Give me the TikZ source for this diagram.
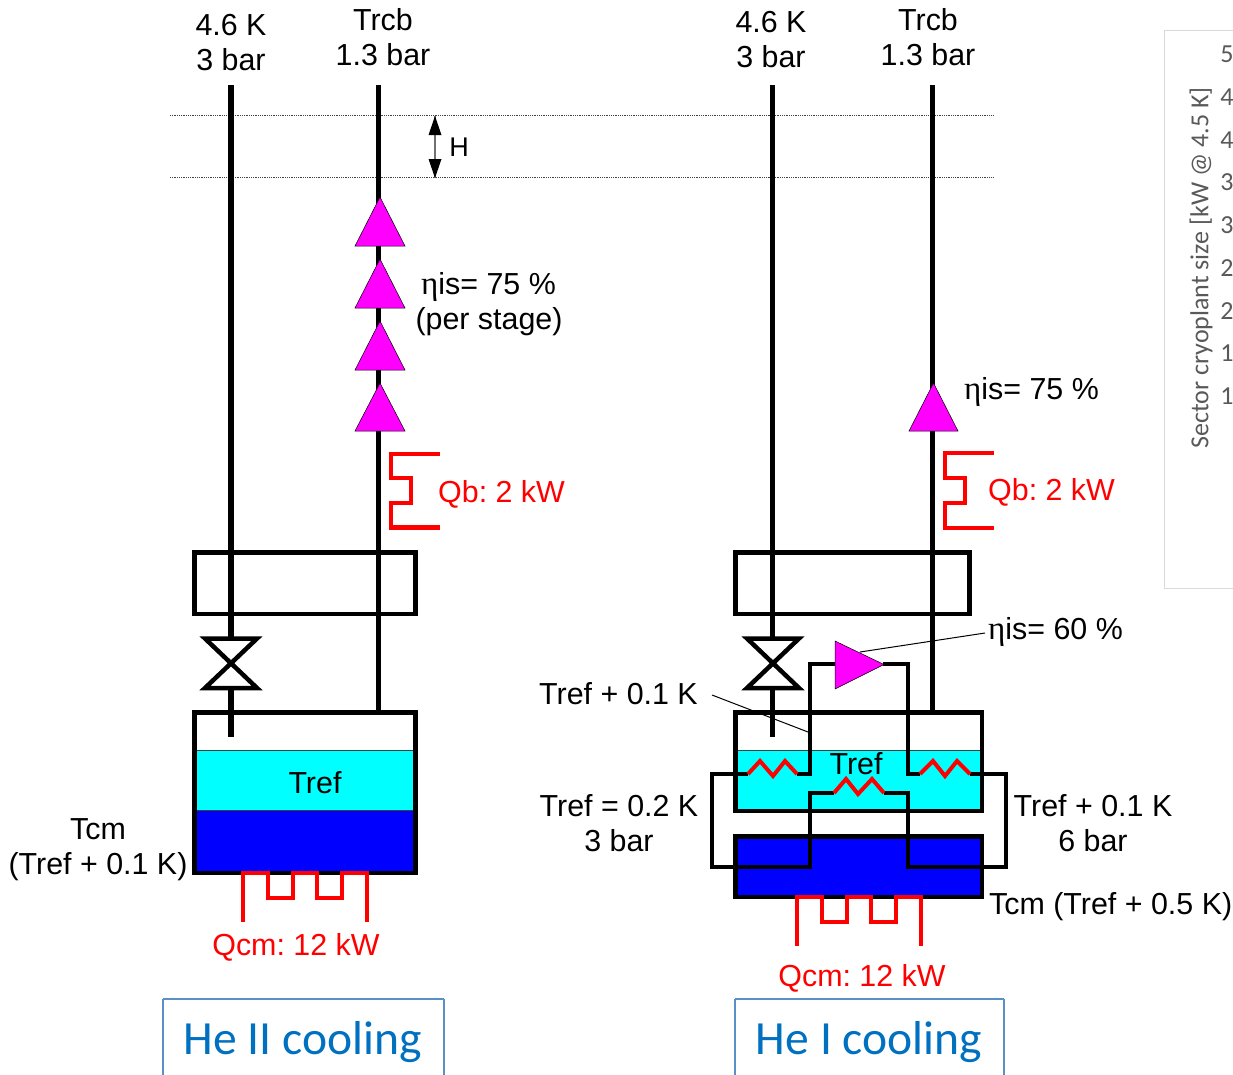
\documentclass[tikz,border=0pt]{standalone}
\usepackage{fontspec}
\setmainfont{Liberation Sans}
\newfontfamily\carl{Carlito}
\newfontfamily\serifg{Liberation Serif}
\definecolor{chartgrey}{HTML}{595959}
\definecolor{chartedge}{HTML}{D9D9D9}
\definecolor{hetext}{HTML}{0070C0}
\definecolor{heedge}{HTML}{5B8FC7}
\definecolor{linegrey}{HTML}{404040}
\definecolor{shaftgrey}{HTML}{707070}
\definecolor{puremag}{RGB}{255,0,255}
\definecolor{purecyan}{RGB}{0,255,255}
\definecolor{pureblue}{RGB}{0,0,255}
\definecolor{purered}{RGB}{255,0,0}
\tikzset{
  lab/.style={font=\fontsize{30.4}{30.4}\selectfont\frenchspacing, inner sep=0pt, anchor=base, text=black, yshift=-0.7pt},
  labl/.style={lab, anchor=base west},
  redlab/.style={text=purered},
  pipe/.style={draw=black, line width=5.4pt},
  hx/.style={draw=black, line width=4.5pt, line join=miter},
  boxline/.style={draw=black, line width=4.5pt},
  heat/.style={draw=purered, line width=4.5pt, line join=miter},
  zig/.style={draw=purered, line width=4pt, line join=miter},
  comp/.style={fill=puremag, draw=black, line width=0.5pt},
  valve/.style={draw=black, line width=4.5pt, fill=none, line join=miter},
  leader/.style={draw=black, line width=1pt},
  level/.style={draw=linegrey, line width=0.8pt, densely dotted},
  hebox/.style={draw=heedge, line width=1.5pt},
  helab/.style={font=\carl\fontsize{47.6}{47.6}\selectfont, text=hetext, inner sep=0pt, anchor=base},
  chartnum/.style={font=\carl\fontsize{26}{26}\selectfont, text=chartgrey, inner sep=0pt},
}
\newcommand{\etaG}{{\serifg\fontsize{33}{33}\selectfont η}}
\begin{document}
\begin{tikzpicture}[x=1pt,y=-1pt]
\useasboundingbox (0,0) rectangle (1233,1074);
\clip (0,0) rectangle (1233,1074);

% chart fragment
\draw[chartedge, line width=1pt] (1240,30) -- (1164,30) -- (1164,588) -- (1240,588);
\node[font=\carl\fontsize{26}{26}\selectfont, text=chartgrey, rotate=90, inner sep=0pt] (chartlab) at (1201,268) {Sector cryoplant size [kW @ 4.5 K]};
\node[chartnum] (n1) at (1227,54) {5};
\node[chartnum] (n2) at (1227,97) {4};
\node[chartnum] (n3) at (1227,140) {4};
\node[chartnum] (n4) at (1227,182) {3};
\node[chartnum] (n5) at (1227,225) {3};
\node[chartnum] (n6) at (1227,268) {2};
\node[chartnum] (n7) at (1227,311) {2};
\node[chartnum] (n8) at (1227,353) {1};
\node[chartnum] (n9) at (1227,396) {1};

% level lines
\coordinate (lvlAl) at (170,115); \coordinate (lvlAr) at (994,115);
\coordinate (lvlBl) at (170,177); \coordinate (lvlBr) at (994,177);
\draw[level] (lvlAl) -- (lvlAr);
\draw[level] (lvlBl) -- (lvlBr);
\coordinate (hT) at (435,116); \coordinate (hB) at (435,178);
\draw[shaftgrey, line width=1.5pt] (hT) -- (hB);
\fill[black] (435,116) -- (441.5,135) -- (428.5,135) -- cycle;
\fill[black] (435,178) -- (441.5,159) -- (428.5,159) -- cycle;
\node[lab, font=\fontsize{27}{27}\selectfont] (H) at (459,156) {H};

%%% LEFT
\fill[purecyan] (194.5,750) rectangle (415.5,810);
\draw[linegrey, line width=1pt] (194.5,750) -- (415.5,750);
\fill[pureblue] (194.5,811) rectangle (415.5,873);
\draw[linegrey, line width=1pt] (194.5,810) -- (415.5,810);
\coordinate (LaT) at (231,85); \coordinate (LvT) at (231,638);
\coordinate (LvB) at (231,688); \coordinate (LaE) at (231,737);
\coordinate (LbT) at (378.5,85); \coordinate (LbB) at (378.5,712);
\draw[pipe] (LaT) -- (LvT);
\draw[pipe] (LvB) -- (LaE);
\draw[pipe] (LbT) -- (LbB);
\draw[boxline] (194.5,552.5) rectangle (415.5,614);
\draw[boxline] (194.5,712.5) rectangle (415.5,873);
\draw[valve] (205,638.5) -- (257,638.5) -- (205,688) -- (257,688) -- cycle;
\draw[comp] (380,197) -- (405,246) -- (355,246) -- cycle;
\draw[comp] (380,259) -- (405,308) -- (355,308) -- cycle;
\draw[comp] (380,321) -- (405,370) -- (355,370) -- cycle;
\draw[comp] (380,383) -- (405,431) -- (355,431) -- cycle;
\draw[heat] (440,454) -- (391,454) -- (391,478) -- (411,478) -- (411,503) -- (391,503) -- (391,527.5) -- (440,527.5);
\draw[heat] (243,921.5) -- (243,873) -- (268,873) -- (268,898) -- (293,898) -- (293,873) -- (317,873) -- (317,898) -- (342,898) -- (342,873) -- (367,873) -- (367,921.5);

\node[lab] (L1a) at (231,35) {4.6 K};
\node[lab] (L1b) at (231,70) {3 bar};
\node[lab] (L2a) at (383,30) {Trcb};
\node[lab] (L2b) at (383,65) {1.3 bar};
\node[labl] (Leta) at (421,294) {\etaG is= 75 \%};
\node[lab] (Lstage) at (489,329) {(per stage)};
\node[labl, redlab] (LQb) at (438,502) {Qb: 2 kW};
\node[lab, redlab] (LQcm) at (296,955) {Qcm: 12 kW};
\node[lab] (LTref) at (315,793) {Tref};
\node[lab] (LTcm) at (98,839) {Tcm};
\node[lab] (LTcm2) at (98,874) {(Tref + 0.1 K)};
\draw[hebox] (163,999) -- (444,999) (163,999) -- (163,1080) (444,999) -- (444,1080);
\node[helab] (LHe) at (302.5,1054) {He II cooling};

%%% RIGHT
\fill[purecyan] (735.5,750) rectangle (982,811);
\draw[linegrey, line width=1pt] (735.5,750) -- (982,750);
\fill[pureblue] (735.5,836) rectangle (982,897);
\coordinate (RaT) at (772.5,85); \coordinate (RvT) at (772.5,638);
\coordinate (RvB) at (772.5,688); \coordinate (RaE) at (772.5,737);
\coordinate (RbT) at (932.5,85); \coordinate (RbB) at (932.5,712);
\draw[pipe] (RaT) -- (RvT);
\draw[pipe] (RvB) -- (RaE);
\draw[pipe] (RbT) -- (RbB);
\draw[boxline] (735.5,552.5) rectangle (969.5,614);
\draw[boxline] (735.5,712.5) rectangle (982,811);
\draw[boxline] (735.5,836.5) rectangle (982,897);
\draw[valve] (747,638.5) -- (799,638.5) -- (747,688) -- (799,688) -- cycle;
\draw[comp] (933.5,383) -- (958,431) -- (909,431) -- cycle;
\draw[heat] (994,453) -- (945,453) -- (945,478) -- (965,478) -- (965,503) -- (945,503) -- (945,528) -- (994,528);
\draw[heat] (797,945.5) -- (797,897) -- (822,897) -- (822,922) -- (847,922) -- (847,897) -- (871,897) -- (871,922) -- (896,922) -- (896,897) -- (921,897) -- (921,945.5);
% helium exchanger circuit
\coordinate (cIn) at (835,664); \coordinate (cOut) at (883,664);
\draw[hx] (cIn) -- (810,664) -- (810,774) -- (797,774);
\draw[hx] (748,774) -- (712,774) -- (712,867) -- (810,867) -- (810,793) -- (834,793);
\draw[hx] (884,793) -- (908,793) -- (908,867) -- (1006,867) -- (1006,774) -- (970,774);
\draw[hx] (920,774) -- (908,774) -- (908,664) -- (cOut);
\draw[zig] (797,774) -- (785,761) -- (773,776) -- (760,761) -- (748,774);
\draw[zig] (834,793) -- (846,779) -- (858,794) -- (872,779) -- (884,793);
\draw[zig] (970,774) -- (957,761) -- (945,776) -- (933,761) -- (920,774);
\draw[comp] (835,641) -- (884,664.5) -- (835,689) -- cycle;
\coordinate (eta60end) at (985,633); \coordinate (eta60tip) at (860,652);
\draw[leader] (eta60end) -- (eta60tip);
\coordinate (t01a) at (712,695); \coordinate (t01b) at (808,732);
\draw[leader] (t01a) -- (t01b);

\node[lab] (R1a) at (771,32) {4.6 K};
\node[lab] (R1b) at (771,67) {3 bar};
\node[lab] (R2a) at (928,30) {Trcb};
\node[lab] (R2b) at (928,65) {1.3 bar};
\node[labl] (Reta) at (964,399) {\etaG is= 75 \%};
\node[labl] (Reta2) at (988,639) {\etaG is= 60 \%};
\node[labl, redlab] (RQb) at (988,500) {Qb: 2 kW};
\node[lab, redlab] (RQcm) at (862,986) {Qcm: 12 kW};
\node[lab] (RTref) at (856,774) {Tref};
\node[labl] (Rt1) at (539,704) {Tref + 0.1 K};
\node[lab] (Rt2) at (619,816) {Tref = 0.2 K};
\node[lab] (Rt2b) at (619,851) {3 bar};
\node[lab] (Rt3) at (1093,816) {Tref + 0.1 K};
\node[lab] (Rt3b) at (1093,851) {6 bar};
\node[labl] (RTcm) at (989,914) {Tcm (Tref + 0.5 K)};
\draw[hebox] (735,999) -- (1004,999) (735,999) -- (735,1080) (1004,999) -- (1004,1080);
\node[helab] (RHe) at (869,1054) {He I cooling};
\end{tikzpicture}
\end{document}
